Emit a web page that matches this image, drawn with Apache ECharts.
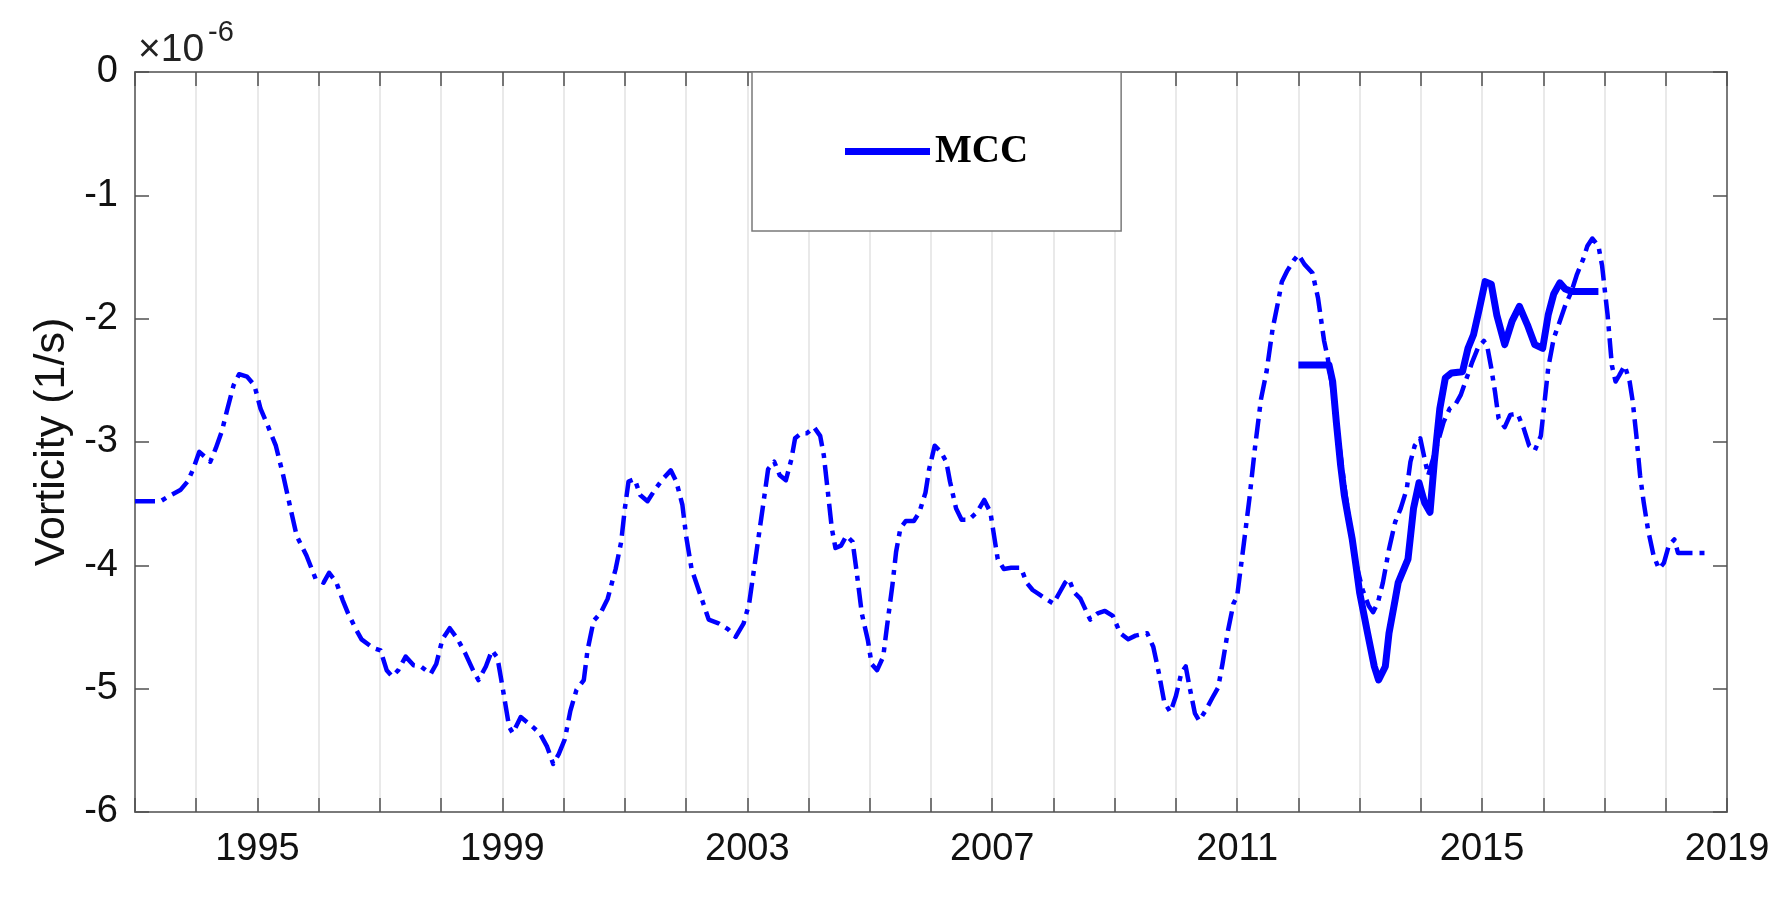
<!DOCTYPE html>
<html><head><meta charset="utf-8">
<script src="https://cdn.jsdelivr.net/npm/echarts@6/dist/echarts.min.js"></script>
<style>html,body{margin:0;padding:0;background:#fff}#c{width:1782px;height:897px}</style>
</head><body><div id="c"></div><script>
// Dashed (dash-dot) series: decimal year / vorticity (x1e-6 1/s)
const refYears = [1993.0,1993.42,1993.55,1993.74,1993.86,1993.95,1994.05,1994.14,1994.23,1994.32,1994.42,1994.51,1994.61,1994.7,1994.83,1994.95,
1995.05,1995.17,1995.3,1995.42,1995.54,1995.64,1995.8,1995.95,1996.08,1996.17,1996.29,1996.39,1996.48,1996.61,1996.7,1996.89,
1997.01,1997.11,1997.2,1997.3,1997.42,1997.55,1997.67,1997.83,1997.92,1998.02,1998.14,1998.27,1998.39,1998.52,1998.61,1998.73,1998.83,1998.92,
1999.01,1999.11,1999.17,1999.3,1999.45,1999.61,1999.73,1999.83,1999.92,2000.02,2000.11,2000.21,2000.33,2000.39,2000.49,2000.6,2000.72,2000.85,2000.94,
2001.0,2001.06,2001.16,2001.25,2001.37,2001.5,2001.62,2001.75,2001.84,2001.94,2002.0,2002.09,2002.22,2002.37,2002.53,2002.69,2002.81,2002.94,
2003.03,2003.15,2003.25,2003.34,2003.44,2003.53,2003.63,2003.72,2003.78,2003.88,2003.97,2004.09,2004.19,2004.25,2004.31,2004.38,2004.44,2004.53,2004.62,2004.72,2004.78,2004.87,2004.97,
2005.03,2005.12,2005.22,2005.28,2005.37,2005.43,2005.5,2005.59,2005.72,2005.81,2005.91,2005.97,2006.06,2006.16,2006.25,2006.31,2006.41,2006.5,2006.62,2006.75,2006.87,2006.97,
2007.03,2007.09,2007.19,2007.31,2007.47,2007.56,2007.66,2007.78,2007.87,2008.0,2008.1,2008.19,2008.25,2008.34,2008.44,2008.6,2008.72,2008.84,2008.97,
2009.09,2009.22,2009.34,2009.53,2009.63,2009.72,2009.81,2009.91,2010.0,2010.09,2010.16,2010.22,2010.31,2010.38,2010.48,2010.6,2010.69,2010.76,2010.85,2010.94,
2011.0,2011.11,2011.2,2011.29,2011.39,2011.48,2011.58,2011.67,2011.73,2011.82,2011.92,2012.0,2012.1,2012.23,2012.32,2012.42,2012.48,2012.55,2012.65,2012.75,2012.85,2012.95,
2013.05,2013.15,2013.22,2013.3,2013.38,2013.48,2013.58,2013.67,2013.77,2013.83,2013.9,2013.99,2014.05,2014.12,2014.25,2014.37,2014.47,2014.56,2014.65,2014.75,2014.84,2014.93,
2015.03,2015.09,2015.15,2015.21,2015.27,2015.37,2015.46,2015.58,2015.68,2015.77,2015.86,2015.96,2016.02,2016.08,2016.17,2016.27,2016.36,2016.46,2016.55,2016.65,2016.72,2016.8,2016.9,2016.96,
2017.0,2017.05,2017.12,2017.18,2017.24,2017.33,2017.41,2017.46,2017.52,2017.58,2017.64,2017.71,2017.8,2017.89,2017.97,2018.05,2018.14,2018.2,2018.7];
const refValues = [-3.48,-3.48,-3.44,-3.39,-3.32,-3.22,-3.08,-3.12,-3.16,-3.05,-2.91,-2.73,-2.54,-2.45,-2.47,-2.54,
-2.73,-2.87,-3.03,-3.27,-3.54,-3.76,-3.92,-4.11,-4.14,-4.06,-4.14,-4.28,-4.39,-4.52,-4.6,-4.67,
-4.69,-4.85,-4.9,-4.85,-4.74,-4.81,-4.82,-4.88,-4.8,-4.6,-4.51,-4.6,-4.71,-4.85,-4.93,-4.82,-4.69,-4.75,
-5.01,-5.31,-5.36,-5.23,-5.29,-5.36,-5.47,-5.61,-5.53,-5.41,-5.18,-5.01,-4.93,-4.69,-4.45,-4.39,-4.27,-4.03,-3.81,
-3.54,-3.32,-3.30,-3.43,-3.48,-3.38,-3.30,-3.23,-3.32,-3.51,-3.76,-4.03,-4.22,-4.44,-4.47,-4.52,-4.58,-4.47,
-4.31,-3.89,-3.54,-3.22,-3.16,-3.27,-3.31,-3.14,-2.97,-2.93,-2.93,-2.88,-2.95,-3.11,-3.38,-3.70,-3.86,-3.84,-3.76,-3.81,-4.03,-4.39,-4.61,
-4.8,-4.85,-4.74,-4.5,-4.16,-3.89,-3.7,-3.64,-3.64,-3.57,-3.41,-3.22,-3.03,-3.08,-3.16,-3.32,-3.54,-3.63,-3.63,-3.57,-3.47,-3.57,
-3.76,-3.95,-4.03,-4.02,-4.02,-4.14,-4.2,-4.24,-4.27,-4.31,-4.22,-4.14,-4.11,-4.22,-4.27,-4.44,-4.39,-4.37,-4.41,
-4.55,-4.6,-4.57,-4.55,-4.66,-4.87,-5.11,-5.19,-5.06,-4.87,-4.82,-4.98,-5.20,-5.26,-5.18,-5.07,-4.99,-4.8,-4.53,-4.31,
-4.25,-3.82,-3.46,-3.05,-2.65,-2.43,-2.08,-1.86,-1.70,-1.61,-1.53,-1.48,-1.56,-1.63,-1.83,-2.18,-2.32,-2.55,-2.95,-3.35,-3.7,-4.0,
-4.2,-4.33,-4.38,-4.3,-4.14,-3.87,-3.65,-3.54,-3.38,-3.16,-3.03,-2.97,-3.11,-3.27,-3.05,-2.84,-2.73,-2.70,-2.62,-2.48,-2.35,-2.24,
-2.18,-2.24,-2.40,-2.59,-2.81,-2.88,-2.78,-2.77,-2.89,-3.03,-3.07,-2.95,-2.68,-2.40,-2.16,-2.02,-1.89,-1.78,-1.64,-1.52,-1.41,-1.35,-1.41,-1.57,
-1.75,-1.97,-2.38,-2.51,-2.46,-2.38,-2.51,-2.67,-2.95,-3.27,-3.49,-3.71,-3.92,-4.03,-3.98,-3.84,-3.79,-3.90,-3.90];

// MCC series (solid)
const mccYears = [2012.0,2012.5,2012.56,2012.62,2012.69,2012.75,2012.81,2012.88,2012.94,2013.0,2013.13,2013.24,2013.31,2013.42,2013.48,2013.58,2013.63,
2013.79,2013.88,2013.97,2014.06,2014.15,2014.22,2014.31,2014.4,2014.5,2014.68,2014.77,2014.86,2014.96,2015.05,2015.15,2015.24,2015.37,2015.49,2015.61,
2015.74,2015.86,2015.99,2016.08,2016.17,2016.27,2016.36,2016.46,2016.9];
const mccValues = [-2.375,-2.375,-2.51,-2.84,-3.19,-3.43,-3.6,-3.79,-4.0,-4.22,-4.55,-4.82,-4.93,-4.82,-4.55,-4.28,-4.14,
-3.95,-3.54,-3.33,-3.49,-3.57,-3.16,-2.73,-2.48,-2.44,-2.43,-2.24,-2.13,-1.91,-1.70,-1.72,-1.97,-2.21,-2.02,-1.9,
-2.05,-2.21,-2.24,-1.97,-1.8,-1.71,-1.76,-1.78,-1.78];

const xLabelYears = [1995, 1999, 2003, 2007, 2011, 2015, 2019];
const yLabelValues = [0, -1, -2, -3, -4, -5, -6];

const zip = (a, b) => a.map((v, i) => [v, b[i]]);
const FONT = "'Liberation Sans', Arial, sans-serif";
const axisCol = '#7a7a7a', tickCol = '#505050', gridCol = '#e2e2e2', txtCol = '#111';

const xBase = {
  type: 'value', min: 1993, max: 2019, interval: 1,
  axisLine: {show: true, onZero: false, lineStyle: {color: axisCol, width: 2}},
  axisTick: {show: true, inside: true, length: 14, lineStyle: {color: tickCol, width: 1.5}}
};
const yBase = {
  type: 'value', min: -6, max: 0, interval: 1,
  axisLine: {show: true, onZero: false, lineStyle: {color: axisCol, width: 2}},
  axisTick: {show: true, inside: true, length: 14, lineStyle: {color: tickCol, width: 1.5}}
};

const chart = echarts.init(document.getElementById('c'), null, {renderer: 'canvas'});
chart.setOption({
  animation: false,
  backgroundColor: '#fff',
  grid: {left: 135, top: 72, right: 55, bottom: 85, containLabel: false},
  xAxis: [
    Object.assign({}, xBase, {
      position: 'bottom',
      splitLine: {show: true, lineStyle: {color: gridCol, width: 1.5}},
      axisLabel: {show: true, margin: 19, fontFamily: FONT, fontSize: 38, color: txtCol,
        formatter: v => xLabelYears.indexOf(Math.round(v)) >= 0 ? String(Math.round(v)) : ''}
    }),
    Object.assign({}, xBase, {position: 'top', splitLine: {show: false}, axisLabel: {show: false}})
  ],
  yAxis: [
    Object.assign({}, yBase, {
      position: 'left',
      splitLine: {show: false},
      name: 'Vorticity (1/s)', nameLocation: 'middle', nameGap: 57,
      nameTextStyle: {fontFamily: FONT, fontSize: 43, color: txtCol},
      axisLabel: {show: true, margin: 17, fontFamily: FONT, fontSize: 38, color: txtCol,
        formatter: v => yLabelValues.indexOf(Math.round(v)) >= 0 ? String(Math.round(v)) : ''}
    }),
    Object.assign({}, yBase, {position: 'right', splitLine: {show: false}, axisLabel: {show: false}})
  ],
  legend: {
    data: ['MCC'], left: 752, top: 72, orient: 'horizontal',
    padding: [60, 93], itemWidth: 85, itemHeight: 7, icon: 'rect',
    borderColor: '#7a7a7a', borderWidth: 1.5, borderRadius: 0, backgroundColor: '#fff',
    textStyle: {fontFamily: "'Liberation Serif', 'Times New Roman', serif", fontWeight: 'bold', fontSize: 39, color: '#000'}
  },
  graphic: [
    {type: 'text', x: 138, y: 31, z: 100, style: {text: '\u00d710', fontFamily: FONT, fontSize: 39, fill: '#222', align: 'left', verticalAlign: 'top'}},
    {type: 'text', x: 208, y: 18, z: 100, style: {text: '-6', fontFamily: FONT, fontSize: 29, fill: '#222', align: 'left', verticalAlign: 'top'}}
  ],
  series: [
    {
      name: 'Reference', type: 'line', xAxisIndex: 0, yAxisIndex: 0,
      data: zip(refYears, refValues), showSymbol: false, symbol: 'none', z: 2,
      lineStyle: {color: '#0000ff', width: 4.5, type: [20, 7, 5, 7], cap: 'butt', join: 'round'},
      itemStyle: {color: '#0000ff'}
    },
    {
      name: 'MCC', type: 'line', xAxisIndex: 0, yAxisIndex: 0,
      data: zip(mccYears, mccValues), showSymbol: false, symbol: 'none', z: 3,
      lineStyle: {color: '#0000ff', width: 7, type: 'solid', join: 'round'},
      itemStyle: {color: '#0000ff'}
    }
  ]
});
</script></body></html>
